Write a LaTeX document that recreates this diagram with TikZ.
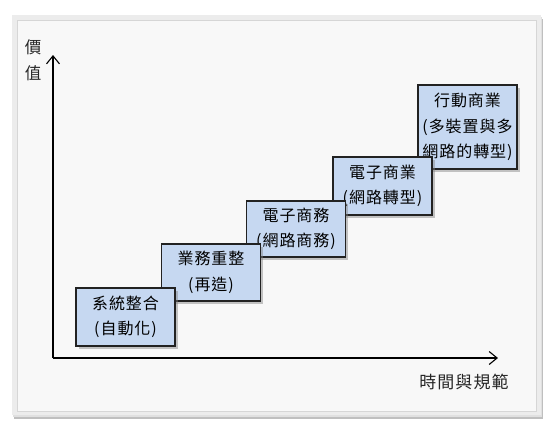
\documentclass[tikz,border=0pt]{standalone}
\usepackage{fontspec}
\newfontfamily\cjk[LetterSpace=6]{Noto Sans CJK TC}
\usetikzlibrary{arrows.meta,shadows}
\definecolor{boxblue}{RGB}{198,216,241}
\definecolor{boxline}{RGB}{34,34,34}
\definecolor{panelfill}{RGB}{248,248,248}
\definecolor{panelrim}{RGB}{236,236,236}
\definecolor{panelline}{RGB}{214,214,214}
\tikzset{
  stage/.style={draw=boxline, line width=1.4pt, fill=boxblue, minimum width=99pt,
    align=center, inner sep=0pt, font=\cjk\fontsize{16}{25.5}\selectfont,
    drop shadow={shadow xshift=2.5pt, shadow yshift=-2.5pt, opacity=0.45}},
  axis/.style={line width=1.1pt, -{Straight Barb[length=8pt,width=13pt,line width=1.1pt]}},
  lab/.style={inner sep=0pt, font=\cjk\fontsize{16.5}{26}\selectfont, text=black!85}
}
\begin{document}
\begin{tikzpicture}[x=1pt,y=-1pt]
\useasboundingbox (0,0) rectangle (547,426);
\fill[white] (0,0) rectangle (547,426);
% panel
\fill[black!25] (14,19) rectangle (543,419);
\fill[black!12] (13,17) rectangle (542,417);
\fill[panelrim] (12,15) rectangle (541,415);
\draw[panelline, line width=0.6pt, fill=panelfill] (17,20) rectangle (536,411);
% axes
\coordinate (o) at (53,358);
\coordinate (ytop) at (53,55);
\coordinate (xend) at (498,358);
\draw[axis] (o) -- (ytop);
\draw[axis] (o) -- (xend);
\node[lab] (v1) at (33,47) {價};
\node[lab] (v2) at (33,73) {值};
\node[lab, font=\cjk\fontsize{17}{20}\selectfont] (tx) at (464,382) {時間與規範};
% stages (later ones behind earlier ones)
\node[stage, minimum height=84pt] (b5) at (467.5,127) {行動商業\\(多裝置與多\\網路的轉型)};
\node[stage, minimum height=58pt] (b4) at (382.5,186) {電子商業\\(網路轉型)};
\node[stage, minimum height=56pt] (b3) at (296,229) {電子商務\\(網路商務)};
\node[stage, minimum height=57pt] (b2) at (211,272.5) {業務重整\\(再造)};
\node[stage, minimum height=58pt] (b1) at (125.5,317) {系統整合\\(自動化)};
\end{tikzpicture}
\end{document}
